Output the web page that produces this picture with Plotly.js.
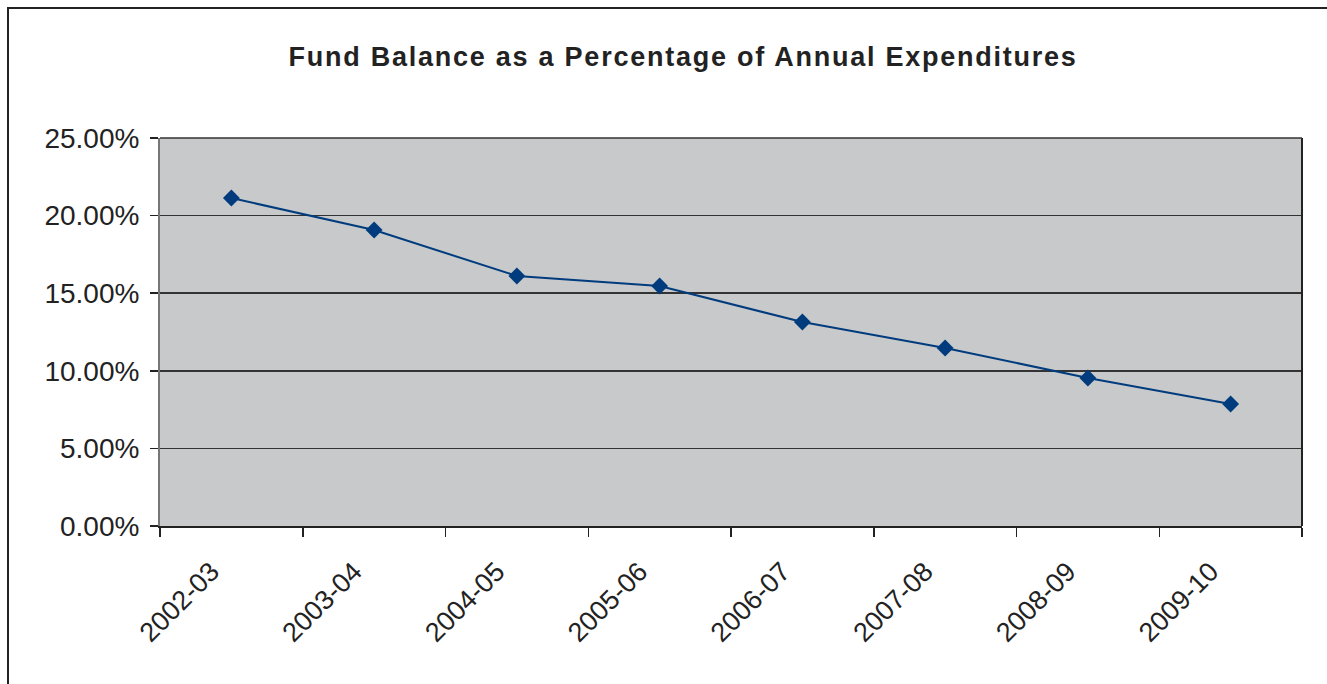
<!DOCTYPE html>
<html>
<head>
<meta charset="utf-8">
<script src="https://cdn.plot.ly/plotly-3.0.1.min.js"></script>
<style>
html,body{margin:0;padding:0;background:#fff;overflow:hidden;}
#wrap{position:relative;width:1327px;height:684px;overflow:hidden;}
#chart{width:1327px;height:684px;}
#frame{position:absolute;left:7px;top:7px;width:1400px;height:760px;border:2px solid #222;pointer-events:none;box-sizing:border-box;}
.gtitle{letter-spacing:1.75px;}
</style>
</head>
<body>
<div id="wrap">
<div id="chart"></div>
<div id="frame"></div>
</div>
<script>
const categories = ["2002-03","2003-04","2004-05","2005-06","2006-07","2007-08","2008-09","2009-10"];
const fundBalancePct = [0.2113, 0.1907, 0.1611, 0.1546, 0.1314, 0.1147, 0.0954, 0.0786];
const yTickVals = [0, 0.05, 0.10, 0.15, 0.20, 0.25];
const yTickText = ["0.00%","5.00%","10.00%","15.00%","20.00%","25.00%"];
const chartTitle = "Fund Balance as a Percentage of Annual Expenditures";

const trace = {
  x: categories,
  y: fundBalancePct,
  type: "scatter",
  mode: "lines+markers",
  line: {color: "#003c7d", width: 2},
  marker: {symbol: "diamond", size: 13, color: "#003c7d"},
  hoverinfo: "x+y"
};

const font = "Liberation Sans, Arial, sans-serif";
const layout = {
  width: 1327, height: 684,
  paper_bgcolor: "#ffffff",
  plot_bgcolor: "#c8c9cb",
  margin: {l: 160, r: 25, t: 138, b: 158, pad: 0},
  showlegend: false,
  title: {
    text: "<b>" + chartTitle + "</b>",
    font: {family: font, size: 27, color: "#222222"},
    xref: "container", x: 0.5147, xanchor: "center",
    yref: "container", y: 0.917, yanchor: "middle"
  },
  xaxis: {
    type: "category",
    range: [-0.5, 7.5],
    tickson: "boundaries",
    ticks: "outside", ticklen: 9, tickwidth: 1.5, tickcolor: "#222",
    showgrid: false,
    showline: true, linecolor: "#222", linewidth: 2,
    tickangle: -45,
    ticklabelstandoff: 17,
    ticklabelshift: -20,
    tickfont: {family: font, size: 27, color: "#222"},
    zeroline: false,
    fixedrange: true
  },
  yaxis: {
    range: [0, 0.25],
    tickvals: yTickVals,
    ticktext: yTickText,
    ticks: "outside", ticklen: 8, tickwidth: 1.5, tickcolor: "#222",
    showgrid: true, gridcolor: "#333333", gridwidth: 1.5,
    showline: true, linecolor: "#777", linewidth: 2,
    zeroline: false,
    ticklabelstandoff: 5,
    tickfont: {family: font, size: 28, color: "#222"},
    fixedrange: true
  },
  shapes: [
    {type: "line", xref: "paper", yref: "paper", x0: 1, x1: 1, y0: 0, y1: 1, line: {color: "#222", width: 2}},
    {type: "line", xref: "paper", yref: "paper", x0: 0, x1: 1, y0: 1, y1: 1, line: {color: "#333", width: 1.5}}
  ]
};

Plotly.newPlot("chart", [trace], layout, {displayModeBar: false, staticPlot: true});
</script>
</body>
</html>
